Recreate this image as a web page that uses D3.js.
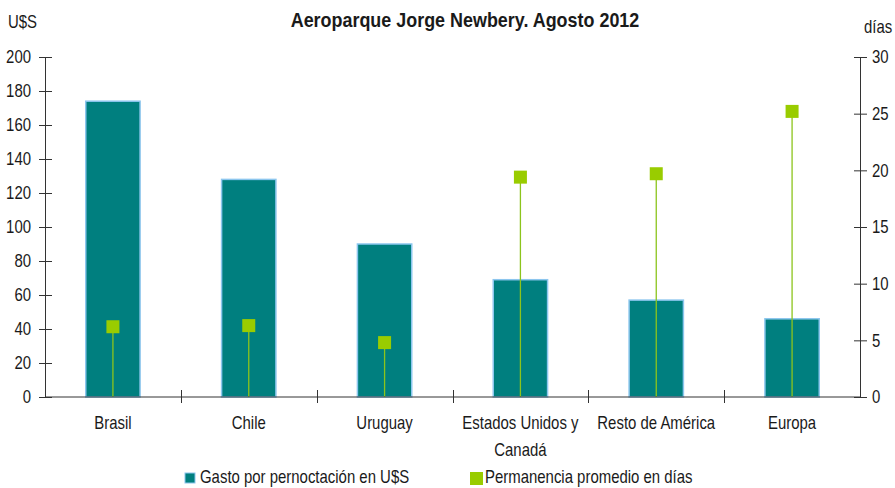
<!DOCTYPE html>
<meta charset="utf-8">
<html>
<head>
  <script src="https://d3js.org/d3.v7.min.js"></script>
  <style>
    body { margin: 0; background: #fff; }
    text { font-family: "Liberation Sans", Arial, sans-serif; fill: #1a1a1a; }
  </style>
</head>
<body>
<script>
  // data
  var categories = ["Brasil", "Chile", "Uruguay", "Estados Unidos y Canadá", "Resto de América", "Europa"];
  var gasto = [174, 128, 90, 69, 57, 46];
  var dias = [6.2, 6.3, 4.8, 19.4, 19.7, 25.2];
  var leftTicks = [0, 20, 40, 60, 80, 100, 120, 140, 160, 180, 200];
  var rightTicks = [0, 5, 10, 15, 20, 25, 30];

  var width = 895, height = 488;
  var margin = { top: 57, right: 35, bottom: 91, left: 45 };
  var sx = 0.83; // narrow font squeeze
  var fs = "18px";

  var svg = d3.select("body").append("svg")
    .attr("width", width)
    .attr("height", height);

  // text helper: narrow look by squeezing horizontally
  function label(px, py, str, anchor, size, weight, scale) {
    return svg.append("text")
      .attr("transform", "translate(" + px + "," + py + ") scale(" + (scale || sx) + ",1)")
      .attr("text-anchor", anchor || "start")
      .style("font-size", size || fs)
      .style("font-weight", weight || "normal")
      .text(str);
  }

  var x = d3.scaleBand()
    .domain(categories)
    .range([margin.left, width - margin.right])
    .paddingInner(0.6)
    .paddingOuter(0.3);

  var xOuter = d3.scaleBand()
    .domain(categories)
    .range([margin.left, width - margin.right]);

  var yL = d3.scaleLinear().domain([0, 200]).range([height - margin.bottom, margin.top]);
  var yR = d3.scaleLinear().domain([0, 30]).range([height - margin.bottom, margin.top]);

  // bars
  svg.selectAll("rect.bar")
    .data(gasto)
    .enter().append("rect")
    .attr("class", "bar")
    .attr("x", function (d, i) { return x(categories[i]); })
    .attr("y", function (d) { return yL(d); })
    .attr("width", x.bandwidth())
    .attr("height", function (d) { return yL(0) - yL(d); })
    .style("fill", "#007f7f")
    .style("stroke", "#8cc6ee")
    .style("stroke-width", 1.5);

  // stems + squares
  svg.selectAll("line.stem")
    .data(dias)
    .enter().append("line")
    .attr("x1", function (d, i) { return x(categories[i]) + x.bandwidth() / 2; })
    .attr("x2", function (d, i) { return x(categories[i]) + x.bandwidth() / 2; })
    .attr("y1", yR(0))
    .attr("y2", function (d) { return yR(d); })
    .style("stroke", "#8cc41c")
    .style("stroke-width", 1.3);

  var sq = 13;
  svg.selectAll("rect.pt")
    .data(dias)
    .enter().append("rect")
    .attr("x", function (d, i) { return x(categories[i]) + x.bandwidth() / 2 - sq / 2; })
    .attr("y", function (d) { return yR(d) - sq / 2; })
    .attr("width", sq)
    .attr("height", sq)
    .style("fill", "#99cc00");

  // x axis line with category separators
  var x0 = yL(0);
  svg.append("line")
    .attr("x1", margin.left).attr("x2", width - margin.right)
    .attr("y1", x0).attr("y2", x0)
    .style("stroke", "#333").style("stroke-width", 1);

  categories.forEach(function (c, i) {
    if (i > 0) {
      var px = Math.round(xOuter(c)) + 0.5;
      svg.append("line")
        .attr("x1", px).attr("x2", px)
        .attr("y1", x0 - 7).attr("y2", x0 + 6)
        .style("stroke", "#333");
    }
  });

  // category labels
  var labelLines = { "Estados Unidos y Canadá": ["Estados Unidos y", "Canadá"] };
  categories.forEach(function (c) {
    var lines = labelLines[c] || [c];
    lines.forEach(function (l, k) {
      label(x(c) + x.bandwidth() / 2, 429 + k * 27, l, "middle");
    });
  });

  // left axis
  var gL = svg.append("g")
    .attr("transform", "translate(" + margin.left + ",0)")
    .call(d3.axisLeft(yL).tickValues(leftTicks).tickSize(6).tickFormat(d3.format("d")));
  gL.select(".domain").attr("d", "M0.5," + yL(0) + "V" + yL(200)).style("stroke", "#333");
  gL.selectAll(".tick line").attr("x1", 7).attr("x2", -6).style("stroke", "#333");
  gL.selectAll(".tick text")
    .attr("x", -14 / sx)
    .attr("transform", "scale(" + sx + ",1)")
    .style("font-size", fs).style("font-family", "Liberation Sans, Arial, sans-serif").style("fill", "#1a1a1a");

  // right axis
  var gR = svg.append("g")
    .attr("transform", "translate(" + (width - margin.right) + ",0)")
    .call(d3.axisRight(yR).tickValues(rightTicks).tickSize(6));
  gR.select(".domain").attr("d", "M0.5," + yR(0) + "V" + yR(30)).style("stroke", "#333");
  gR.selectAll(".tick line").attr("x1", -6).attr("x2", 7).style("stroke", "#333");
  gR.selectAll(".tick text")
    .attr("x", 12 / sx)
    .attr("transform", "scale(" + sx + ",1)")
    .style("font-size", fs).style("font-family", "Liberation Sans, Arial, sans-serif").style("fill", "#1a1a1a");

  // titles
  label(465, 27, "Aeroparque Jorge Newbery. Agosto 2012", "middle", "19.5px", "bold", 0.92);
  label(8, 28, "U$S", "start");
  label(864, 33, "días", "start");

  // legend
  var legend = [
    { label: "Gasto por pernoctación en U$S", color: "#007f7f", stroke: "#8cc6ee", x: 185, y: 473, s: 10 },
    { label: "Permanencia promedio en días", color: "#99cc00", stroke: "none", x: 470, y: 472, s: 13 }
  ];
  legend.forEach(function (l) {
    svg.append("rect")
      .attr("x", l.x).attr("y", l.y)
      .attr("width", l.s).attr("height", l.s)
      .style("fill", l.color)
      .style("stroke", l.stroke);
    label(l.x + 15, 483, l.label, "start");
  });
</script>
</body>
</html>
